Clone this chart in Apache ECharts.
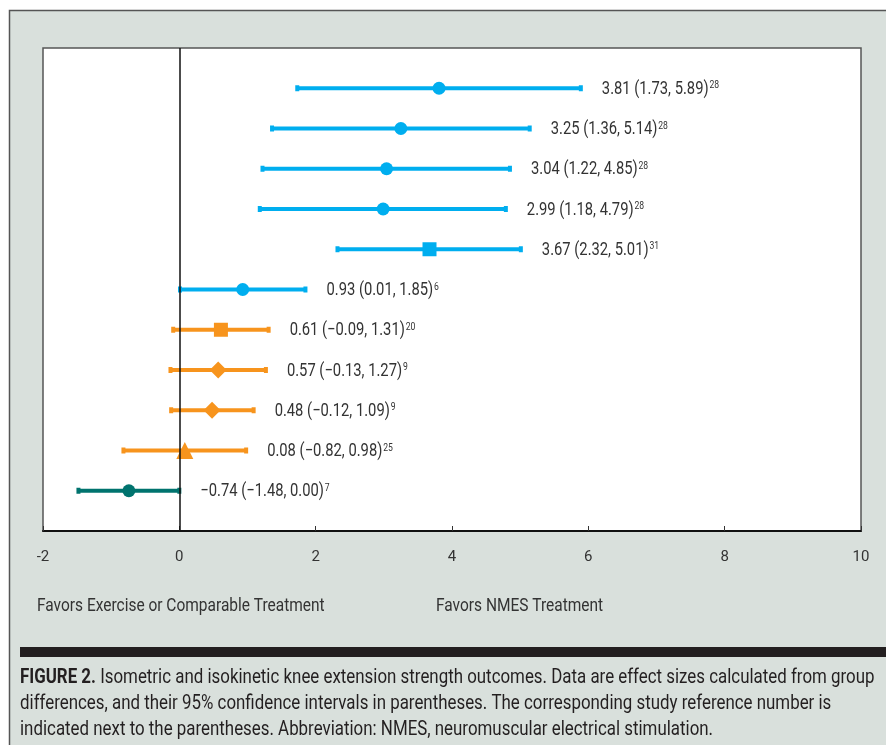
<!DOCTYPE html>
<html><head><meta charset="utf-8">
<script src="https://cdn.jsdelivr.net/npm/echarts@6/dist/echarts.min.js"></script>
<style>html,body{margin:0;padding:0;background:#fff}#c{width:886px;height:745px}</style>
</head><body><div id="c"></div>
<script>
const estimates = [3.81, 3.25, 3.04, 2.99, 3.67, 0.93, 0.61, 0.57, 0.48, 0.08, -0.74];
const lowers    = [1.73, 1.36, 1.22, 1.18, 2.32, 0.01, -0.09, -0.13, -0.12, -0.82, -1.48];
const uppers    = [5.89, 5.14, 4.85, 4.79, 5.01, 1.85, 1.31, 1.27, 1.09, 0.98, 0.00];
const refs      = ['28', '28', '28', '28', '31', '6', '20', '9', '9', '25', '7'];
const groups    = ['blue', 'blue', 'blue', 'blue', 'blue', 'blue', 'orange', 'orange', 'orange', 'orange', 'teal'];
const shapes    = ['circle', 'circle', 'circle', 'circle', 'rect', 'circle', 'rect', 'diamond', 'diamond', 'triangle', 'circle'];
const xTicks    = [-2, 0, 2, 4, 6, 8, 10];

const COLORS = {blue: '#00aeef', orange: '#f7941d', teal: '#00736e'};
const SIZES = {circle: 13, rect: 14, diamond: 17, triangle: 17};
const FONT = 'Roboto, "Liberation Sans", sans-serif';
const SX = 0.82;

function fmt(v) {
  const s = Math.abs(v).toFixed(2);
  return (v < 0 ? '\u2212' : '') + s;
}

const n = estimates.length;
const rowY = i => n - i;

const barData = estimates.map((e, i) => [lowers[i], uppers[i], rowY(i), i]);
const pointData = estimates.map((e, i) => ({
  value: [e, rowY(i)],
  symbol: shapes[i],
  symbolSize: SIZES[shapes[i]],
  itemStyle: {color: COLORS[groups[i]], opacity: 1}
}));

function capText(txt, top) {
  return {type: 'text', x: 20, y: top, scaleX: SX, style: {
    text: txt, rich: {b: {font: 'bold 20.6px ' + FONT, fill: '#231f20'}},
    font: '20.6px ' + FONT, fill: '#231f20', verticalAlign: 'middle'}};
}

const chart = echarts.init(document.getElementById('c'), null, {renderer: 'canvas'});
chart.setOption({
  backgroundColor: '#ffffff',
  animation: false,
  graphic: [
    {type: 'rect', z: -10, shape: {x: 9.5, y: 10.5, width: 900, height: 800},
     style: {fill: '#d9e0dc', stroke: '#555', lineWidth: 1.5}},
    {type: 'rect', z: -5, shape: {x: 20, y: 647, width: 880, height: 10}, style: {fill: '#231f20'}},
    {type: 'text', x: 37, y: 606, scaleX: 0.86, style: {text: 'Favors Exercise or Comparable Treatment', font: '18px ' + FONT, fill: '#333', verticalAlign: 'middle'}},
    {type: 'text', x: 436, y: 606, scaleX: 0.86, style: {text: 'Favors NMES Treatment', font: '18px ' + FONT, fill: '#333', verticalAlign: 'middle'}},
    capText('{b|FIGURE 2.} Isometric and isokinetic knee extension strength outcomes. Data are effect sizes calculated from group', 678),
    capText('differences, and their 95% confidence intervals in parentheses. The corresponding study reference number is', 704),
    capText('indicated next to the parentheses. Abbreviation: NMES, neuromuscular electrical stimulation.', 730)
  ],
  grid: {left: 43, right: 25, top: 48, bottom: 214, show: true, backgroundColor: '#fff', borderColor: '#555', borderWidth: 1.5},
  xAxis: {
    type: 'value', min: -2, max: 10, interval: 2,
    axisLine: {show: true, onZero: false, lineStyle: {color: '#111', width: 2}},
    axisTick: {show: true, inside: true, length: 5, lineStyle: {color: '#333', width: 1}},
    axisLabel: {show: true, margin: 19, color: '#333', fontSize: 15, fontFamily: FONT,
      formatter: v => String(v)},
    splitLine: {show: false}
  },
  yAxis: {type: 'value', min: 0, max: 12, show: false, splitLine: {show: false}},
  series: [
    {
      type: 'custom', name: 'ci', data: barData, z: 2,
      encode: {x: [0, 1], y: 2},
      renderItem: function (params, api) {
        const lo = api.coord([api.value(0), api.value(2)]);
        const hi = api.coord([api.value(1), api.value(2)]);
        const i = api.value(3);
        const c = COLORS[groups[i]];
        return {type: 'group', children: [
          {type: 'line', shape: {x1: lo[0], y1: lo[1], x2: hi[0], y2: hi[1]}, style: {stroke: c, lineWidth: 4}},
          {type: 'rect', shape: {x: lo[0] - 2, y: lo[1] - 3, width: 4, height: 6}, style: {fill: c}},
          {type: 'rect', shape: {x: hi[0] - 2, y: hi[1] - 3, width: 4, height: 6}, style: {fill: c}},
          {type: 'text', x: hi[0] + 21, y: hi[1] + 1, scaleX: SX, style: {
            text: '{a|' + fmt(estimates[i]) + ' (' + fmt(lowers[i]) + ', ' + fmt(uppers[i]) + ')}{s|' + refs[i] + '}',
            verticalAlign: 'middle', align: 'left',
            rich: {
              a: {font: '18px ' + FONT, fill: '#333', lineHeight: 20, verticalAlign: 'middle'},
              s: {font: '10.5px ' + FONT, fill: '#333', lineHeight: 20, verticalAlign: 'top', padding: [1, 0, 0, 1]}
            }
          }}
        ]};
      },
      markLine: {
        silent: true, symbol: 'none', animation: false,
        label: {show: false},
        lineStyle: {color: '#111', width: 1.5, type: 'solid'},
        data: [{xAxis: 0}]
      }
    },
    {type: 'scatter', name: 'pts', data: pointData, z: 4}
  ]
});
</script></body></html>
